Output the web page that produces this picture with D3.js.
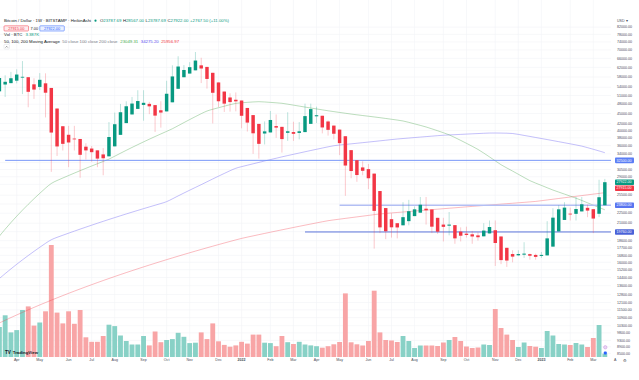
<!DOCTYPE html>
<html><head><meta charset="utf-8">
<script src="https://cdn.jsdelivr.net/npm/d3@7"></script>
<style>html,body{margin:0;padding:0;background:#fff;}svg{display:block;font-family:"Liberation Sans",Arial,sans-serif;}</style>
</head><body><svg id="c" width="639" height="380"></svg>
<script>
// ---------- DATA (weekly Heikin Ashi, BTC/USD Bitstamp) ----------
const firstWeek = "2021-03-15";
const haOpen = [52500,55050,55575,56540,57770,57920,55120,54135,55505,53750,46590,41195,38820,37810,37705,35740,35280,34840,33870,33420,35820,38800,42100,44710,46470,47770,48120,47710,46030,45665,48645,53435,57905,59400,60750,62890,62210,59715,55845,52420,50310,49520,49250,46775,44510,41870,39160,39455,41240,41020,39350,39560,39320,39550,41875,44140,44310,42580,41380,40240,38430,34890,32530,30940,30580,29640,26260,23330,21595,21000,20695,21300,22060,22590,23230,23100,21800,20800,20640,20720,19810,19530,19440,19295,19170,19560,20005,19150,17700,16950,16800,16875,16940,16845,16730,16790,17845,19835,21480,22440,22410,22790,23370,23150,22420,23787.69];
const haHigh = [61000,58700,60100,61200,64800,57920,57500,59600,59500,53750,46590,41195,41300,41300,37705,36600,35900,34840,35400,42400,45300,48100,49000,50500,52900,52900,48800,47710,49000,56500,62900,67000,63000,64300,69000,66300,62210,59715,55845,52420,51800,52100,49250,46775,44510,41870,42600,45800,44700,41020,45400,42500,42400,48200,48200,47200,44310,42900,41380,40240,38430,34890,32530,32300,31700,29640,26260,23330,22500,21000,24300,24700,23600,25200,25200,23100,21800,21800,22700,20720,20400,20500,19900,19700,21000,21400,21400,19150,17700,17400,17400,18400,17000,17000,17200,21300,23300,23800,24300,23400,25200,25200,23900,23150,28400,28567];
const haLow = [52500,50500,55575,55500,51500,47000,49800,53000,43800,30000,33500,34800,31000,34800,28800,32700,32200,31000,29300,33420,35820,38800,42100,44710,46470,42800,44800,39600,40800,45665,48645,53435,57905,59400,60750,55600,53500,42000,47100,45500,45600,45700,40600,39700,34000,32900,36300,39455,38000,34300,37200,37200,37600,39550,41875,42100,39200,38600,37600,33700,25400,28700,28000,29300,26600,17600,19600,18800,19000,18900,20695,20700,22060,22590,20800,19600,19500,18500,19300,18200,18500,19000,18200,18600,19170,19560,15600,15800,15500,16000,16700,16500,16300,16300,16500,16790,17845,19835,21480,21400,21400,22790,21900,19600,21900,23787.69];
const haClose = [57600,56100,57500,59000,58075,52325,53150,56875,52000,39425,35800,36450,36800,37600,33775,34825,34400,32900,32975,38225,41775,45400,47325,48225,49075,48475,47300,44350,45300,51625,58225,62375,60900,62100,65025,61525,57225,51975,49000,48200,48725,48975,44300,42250,39225,36450,39750,43025,40800,37675,39775,39075,39775,44200,46400,44475,40850,40175,39100,36625,31350,30175,29350,30225,28700,22875,20400,19860,20410,20390,21900,22825,23125,23875,22975,20500,19800,20475,20800,18900,19250,19350,19150,19050,19950,20450,18300,16250,16200,16650,16950,17000,16750,16620,16850,18900,21825,23125,23400,22380,23175,23950,22925,21690,25154.5,27922];
const volumeK = [30,41.7,24.6,26.9,47,50.6,31.4,34.5,45.7,112,44.4,33.6,45.7,33.2,47,19.7,15.2,15.2,21,32.3,30.9,21.5,16,12.5,12.5,21,11.6,25.5,14.8,17,17.9,24.2,20.2,13.9,14.3,24.6,17.9,33.6,15.7,12.1,10.3,11.6,15.2,13.4,22.4,22.4,14.3,13.9,10.8,21,14.8,13,15.2,12.5,11.6,10.8,9.3,10.8,12.7,15,63.6,14.7,12.7,11.5,16,66.3,24.6,17,16.5,15,21,16,9,11.5,11.5,11.5,11,14.5,17,20,16,10.5,9,9.5,12.5,12,48,29,22.4,17,10,14.5,11,10.3,9,26,21.5,13,12.5,12,14,12.5,10,19,32,3.387];
const ma50 = [19200,20150,21100,22050,23000,23950,24900,25850,26800,27750,28250,28750,29250,29750,30250,30750,31250,31750,32250,32750,33450,34150,34850,35550,36250,36950,37650,38350,39050,39750,40450,41350,42250,43150,44050,44950,45850,46350,46850,47350,47850,48350,48490,48630,48770,48900,48760,48620,48480,48340,48020,47700,47380,47060,46760,46460,46160,45860,45600,45340,45080,44820,44600,44380,44160,43940,43720,43480,43240,43000,42760,42320,41880,41440,41000,40460,39920,39380,38840,38090,37340,36590,35840,35090,34190,33290,32390,31490,30830,30170,29510,28850,28190,27750,27310,26870,26430,26070,25710,25350,24990,24600,24200,23800,23420,23049.31];
const ma100 = [14300,14795,15290,15785,16280,16775,17270,17765,18260,18755,19035,19315,19595,19875,20155,20435,20715,20995,21275,21555,21835,22115,22395,22675,22955,23235,23515,23795,24075,24355,24870,25385,25900,26415,26930,27445,28000,28560,29120,29680,30240,30800,31110,31420,31730,32040,32360,32670,32980,33300,33600,33900,34200,34500,34800,35100,35400,35700,36000,36150,36300,36450,36600,36750,36900,37060,37220,37380,37540,37700,37830,37950,38080,38200,38330,38450,38580,38700,38780,38850,38930,39000,39080,39150,39230,39300,39300,39280,39250,39200,38930,38650,38380,38100,37830,37550,37280,37000,36730,36450,36180,35900,35500,35100,34700,34275.20];
const ma200 = [10500,10700,10900,11100,11300,11500,11700,11900,12100,12300,12500,12700,12900,13100,13300,13500,13700,13900,14100,14300,14500,14700,14900,15100,15300,15500,15700,15900,16100,16300,16500,16700,16900,17100,17300,17500,17700,17900,18100,18300,18500,18700,18900,19065,19230,19395,19560,19725,19890,20055,20220,20385,20550,20715,20880,21045,21210,21375,21490,21600,21715,21830,21940,22055,22170,22285,22400,22475,22550,22625,22700,22775,22850,22925,23000,23075,23150,23225,23300,23375,23450,23525,23600,23675,23750,23825,23900,23975,24050,24125,24200,24275,24350,24425,24553,24680,24808,24936,25063,25191,25319,25446,25574,25702,25829,25956.97];
const monthTickDates = ["2021-04-05","2021-05-03","2021-06-07","2021-07-05","2021-08-02","2021-09-06","2021-10-04","2021-11-01","2021-12-06","2022-01-03","2022-02-07","2022-03-07","2022-04-04","2022-05-02","2022-06-06","2022-07-04","2022-08-01","2022-09-05","2022-10-03","2022-11-07","2022-12-05","2023-01-02","2023-02-06","2023-03-06"];
const monthTickLabels = ["Apr","May","Jun","Jul","Aug","Sep","Oct","Nov","Dec","2022","Feb","Mar","Apr","May","Jun","Jul","Aug","Sep","Oct","Nov","Dec","2023","Feb","Mar"];
const priceTicks = [82000,78000,74000,70000,66000,62000,58000,54000,51000,48000,45000,42000,40000,38000,36000,34000,32000,30500,29000,27500,25500,24000,22500,21000,19800,18600,17700,16800,16000,15200,14400,13600,12800,12100,11500,10900,10300,9800,9300,8900,8500];
const levelPrices = [32500, 23800, 19760];
const levelStartDates = ["2021-03-22", "2022-05-02", "2022-03-21"];
const lastPrice = 27922.00, bidPrice = 27915.00, askPrice = 27922.00;

// ---------- LAYOUT ----------
const svg = d3.select("#c");
const plotR = 611, plotB = 357;
const parse = d3.utcParse("%Y-%m-%d");
const start = parse(firstWeek);
const dates = haOpen.map((_, i) => d3.utcDay.offset(start, 7 * i));
const x = d3.scaleUtc().domain([parse("2021-04-05"), parse("2023-03-06")]).range([16.7, 593.3]);
const y = d3.scaleLog().domain([99035, 8288]).range([0, plotB]);
const vy = d3.scaleLinear().domain([0, 112]).range([plotB, plotB - 112]);
const step = x(dates[1]) - x(dates[0]);
const UP = "#089981", DN = "#f23645";
const fmt = d3.format(".2f");

svg.append("rect").attr("width", 639).attr("height", 380).attr("fill", "#fff");
svg.append("defs").append("clipPath").attr("id", "pc").append("rect")
  .attr("x", 0).attr("y", 0).attr("width", plotR).attr("height", plotB);

// grid
const grid = svg.append("g").attr("clip-path", "url(#pc)");
grid.selectAll("line.h").data(priceTicks).join("line")
  .attr("x1", 0).attr("x2", plotR).attr("y1", d => y(d)).attr("y2", d => y(d))
  .attr("stroke", "#f2f3f6").attr("stroke-width", 0.6);
grid.selectAll("line.v").data(monthTickDates).join("line")
  .attr("x1", d => x(parse(d))).attr("x2", d => x(parse(d))).attr("y1", 0).attr("y2", plotB)
  .attr("stroke", "#f2f3f6").attr("stroke-width", 0.6);

const plot = svg.append("g").attr("clip-path", "url(#pc)");

// volume
const bw = step * 0.84;
plot.selectAll("rect.vol").data(volumeK).join("rect")
  .attr("x", (d, i) => x(dates[i]) - bw / 2).attr("width", bw)
  .attr("y", d => vy(d)).attr("height", d => plotB - vy(d))
  .attr("fill", (d, i) => haClose[i] >= haOpen[i] ? "#88d1c6" : "#f8a5a6");

// moving averages
const line = arr => d3.line().x((d, i) => x(dates[i])).y(d => y(d)).curve(d3.curveBasis)(arr);
plot.append("path").attr("d", line(ma200)).attr("fill", "none").attr("stroke", "#f23645").attr("stroke-opacity", 0.42).attr("stroke-width", 0.8);
plot.append("path").attr("d", line(ma100)).attr("fill", "none").attr("stroke", "#5b4ff0").attr("stroke-opacity", 0.45).attr("stroke-width", 0.8);
plot.append("path").attr("d", line(ma50)).attr("fill", "none").attr("stroke", "#43a047").attr("stroke-opacity", 0.45).attr("stroke-width", 0.8);

// horizontal levels
const lvlColor = ["#6a8cf7", "#b3bff4", "#4a64d6"];
const lvlWidth = [0.9, 1.5, 0.9];
levelPrices.forEach((p, k) => {
  plot.append("line").attr("x1", x(parse(levelStartDates[k]))).attr("x2", plotR)
    .attr("y1", y(p)).attr("y2", y(p)).attr("stroke", lvlColor[k]).attr("stroke-width", lvlWidth[k]);
});

// candles
const cw = step * 0.6;
const cg = plot.selectAll("g.c").data(haOpen).join("g");
cg.append("line")
  .attr("x1", (d, i) => x(dates[i])).attr("x2", (d, i) => x(dates[i]))
  .attr("y1", (d, i) => y(haHigh[i])).attr("y2", (d, i) => y(haLow[i]))
  .attr("stroke", (d, i) => haClose[i] >= d ? UP : DN).attr("stroke-opacity", 0.45).attr("stroke-width", 0.6);
cg.append("rect")
  .attr("x", (d, i) => x(dates[i]) - cw / 2).attr("width", cw)
  .attr("y", (d, i) => y(Math.max(d, haClose[i])))
  .attr("height", (d, i) => Math.max(0.8, Math.abs(y(d) - y(haClose[i]))))
  .attr("fill", (d, i) => haClose[i] >= d ? UP : DN);

// ---------- PRICE AXIS ----------
const axis = svg.append("g");
const boxes = [
  {v: levelPrices[0], yy: y(levelPrices[0]), c: "#5b7ef5"},
  {v: lastPrice, yy: y(lastPrice), c: UP},
  {v: bidPrice, yy: y(bidPrice) + 6, c: DN},
  {v: levelPrices[1], yy: y(levelPrices[1]), c: "#5874f0"},
  {v: levelPrices[2], yy: y(levelPrices[2]), c: "#4a62d8"}
];
axis.selectAll("text.t").data(priceTicks.filter(p => boxes.every(b => Math.abs(y(p) - b.yy) > 4.5) && y(p) < plotB - 2)).join("text")
  .attr("x", 617).attr("y", d => y(d) + 1.2).attr("font-size", 3.6).attr("fill", "#4a4d57").text(d => fmt(d));
boxes.forEach(b => {
  axis.append("rect").attr("x", 615).attr("y", b.yy - 2.8).attr("width", 19).attr("height", 5.6).attr("rx", 0.8).attr("fill", b.c);
  axis.append("text").attr("x", 616.6).attr("y", b.yy + 1.25).attr("font-size", 3.6).attr("fill", "#fff").text(fmt(b.v));
});
axis.append("text").attr("x", 617).attr("y", 21.5).attr("font-size", 3.6).attr("fill", "#4a4d57").text("USD \u25BE");

// ---------- TIME AXIS ----------
svg.selectAll("text.m").data(monthTickDates).join("text")
  .attr("x", d => x(parse(d))).attr("y", 361.3).attr("text-anchor", "middle")
  .attr("font-size", 3.6).attr("fill", "#4a4d57")
  .attr("font-weight", (d, i) => /^\d{4}$/.test(monthTickLabels[i]) ? "bold" : "normal")
  .text((d, i) => monthTickLabels[i]);
svg.append("text").attr("x", 614).attr("y", 361.3).attr("font-size", 3.6).attr("fill", "#4a4d57").text("A");
svg.append("text").attr("x", 623).attr("y", 361.6).attr("font-size", 4.2).attr("fill", "#4a4d57").text("\u2699");

// bottom markers
svg.append("circle").attr("cx", 605.3).attr("cy", 347.3).attr("r", 1.7).attr("fill", "#ead5f2").attr("stroke", "#c58fe0").attr("stroke-width", 0.5);
svg.append("rect").attr("x", 603.8).attr("y", 351.6).attr("width", 3).attr("height", 3).attr("rx", 1).attr("fill", "#2962ff");

// TradingView logo
svg.append("text").attr("x", 5).attr("y", 354.4).attr("font-size", 4.6).attr("font-weight", "bold").attr("fill", "#131722").text("TV");
svg.append("text").attr("x", 12.8).attr("y", 354.4).attr("font-size", 4.3).attr("font-weight", "bold").attr("fill", "#131722").text("TradingView");

// ---------- LEGEND / HEADER ----------
const hdr = svg.append("g").attr("font-size", 4.3);
hdr.append("text").attr("x", 4).attr("y", 22.2).attr("fill", "#131722").text("Bitcoin / Dollar \u00B7 1W \u00B7 BITSTAMP \u00B7 HeikinAshi");
hdr.append("circle").attr("cx", 95.5).attr("cy", 20.7).attr("r", 1.1).attr("fill", UP);
const ohlc = hdr.append("text").attr("x", 100).attr("y", 22.2).attr("fill", "#131722");
[["O", haOpen[haOpen.length - 1]], ["H", haHigh[haHigh.length - 1]], ["L", haLow[haLow.length - 1]], ["C", haClose[haClose.length - 1]]].forEach(([k, v], j) => {
  ohlc.append("tspan").attr("dx", j ? 1.6 : 0).text(k);
  ohlc.append("tspan").attr("fill", UP).text(fmt(v));
});
const chg = haClose[haClose.length - 1] - haClose[haClose.length - 2];
ohlc.append("tspan").attr("dx", 1.6).attr("fill", UP).text("+" + fmt(chg) + " (+" + fmt(chg / haClose[haClose.length - 2] * 100) + "%)");

hdr.append("rect").attr("x", 4).attr("y", 25.8).attr("width", 24.5).attr("height", 5.2).attr("rx", 0.8).attr("fill", "#fdecee").attr("stroke", DN).attr("stroke-width", 0.5);
hdr.append("text").attr("x", 16.25).attr("y", 29.7).attr("text-anchor", "middle").attr("font-size", 3.9).attr("fill", DN).text(fmt(bidPrice));
hdr.append("text").attr("x", 30.5).attr("y", 29.7).attr("font-size", 3.9).attr("fill", "#131722").text(fmt(askPrice - bidPrice));
hdr.append("rect").attr("x", 39.8).attr("y", 25.8).attr("width", 24.5).attr("height", 5.2).attr("rx", 0.8).attr("fill", "#eaf0ff").attr("stroke", "#2962ff").attr("stroke-width", 0.5);
hdr.append("text").attr("x", 52).attr("y", 29.7).attr("text-anchor", "middle").attr("font-size", 3.9).attr("fill", "#2962ff").text(fmt(askPrice));

const vol = hdr.append("text").attr("x", 4).attr("y", 36.4).attr("fill", "#131722");
vol.append("tspan").text("Vol \u00B7 BTC");
vol.append("tspan").attr("dx", 3).attr("fill", UP).text(d3.format(".3f")(volumeK[volumeK.length - 1]) + "K");

const ma = hdr.append("text").attr("x", 4).attr("y", 43).attr("fill", "#131722");
ma.append("tspan").text("50, 100, 200 Moving Average");
ma.append("tspan").attr("dx", 2.5).attr("fill", "#787b86").text("50 close 100 close 200 close");
ma.append("tspan").attr("dx", 2.8).attr("fill", "#4caf50").text(fmt(ma50[ma50.length - 1]));
ma.append("tspan").attr("dx", 2.5).attr("fill", "#5b4ff0").text(fmt(ma100[ma100.length - 1]));
ma.append("tspan").attr("dx", 2.5).attr("fill", DN).text(fmt(ma200[ma200.length - 1]));

hdr.append("rect").attr("x", 4).attr("y", 44.4).attr("width", 5.4).attr("height", 4.6).attr("rx", 0.8).attr("fill", "#fff").attr("stroke", "#d1d4dc").attr("stroke-width", 0.4);
hdr.append("path").attr("d", "M5.5,47.6 L6.7,46.3 L7.9,47.6").attr("fill", "none").attr("stroke", "#131722").attr("stroke-width", 0.4);
</script></body></html>
